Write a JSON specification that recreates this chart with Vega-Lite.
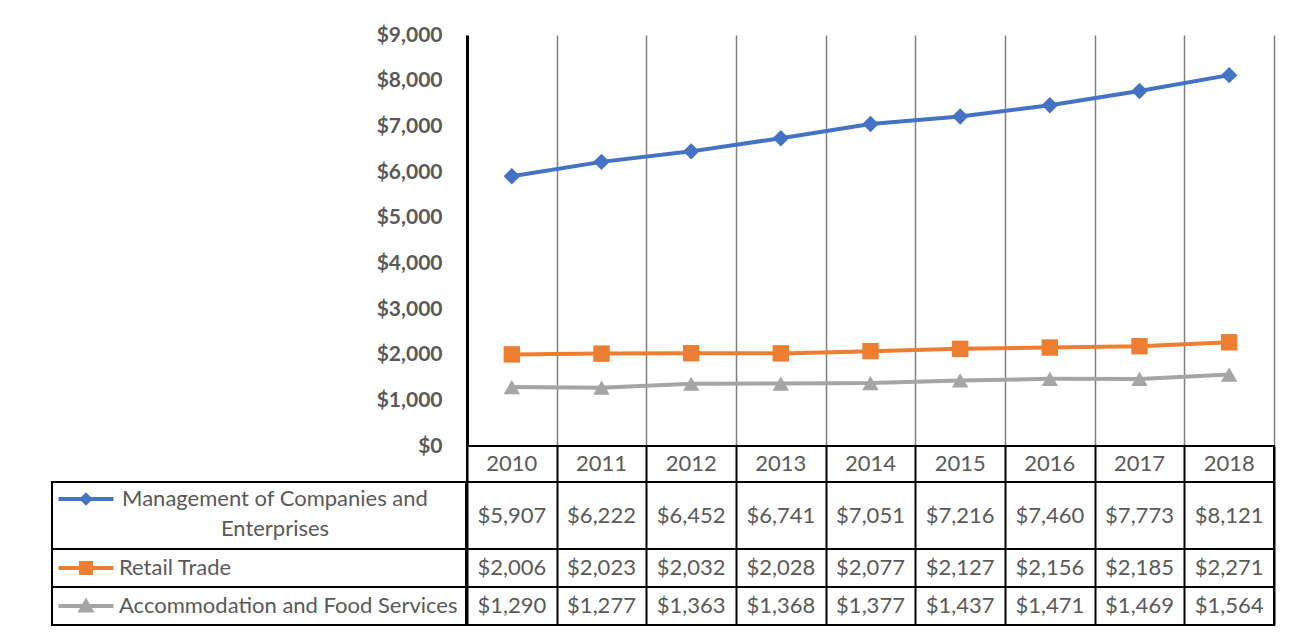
{
  "$schema": "https://vega.github.io/schema/vega-lite/v6.json",
  "padding": {"left": 51, "top": 24, "right": 10, "bottom": 0},
  "background": "#ffffff",
  "datasets": {
    "vals": [
      {"series": "Management of Companies and Enterprises", "year": "2010", "value": 5907},
      {"series": "Management of Companies and Enterprises", "year": "2011", "value": 6222},
      {"series": "Management of Companies and Enterprises", "year": "2012", "value": 6452},
      {"series": "Management of Companies and Enterprises", "year": "2013", "value": 6741},
      {"series": "Management of Companies and Enterprises", "year": "2014", "value": 7051},
      {"series": "Management of Companies and Enterprises", "year": "2015", "value": 7216},
      {"series": "Management of Companies and Enterprises", "year": "2016", "value": 7460},
      {"series": "Management of Companies and Enterprises", "year": "2017", "value": 7773},
      {"series": "Management of Companies and Enterprises", "year": "2018", "value": 8121},
      {"series": "Retail Trade", "year": "2010", "value": 2006},
      {"series": "Retail Trade", "year": "2011", "value": 2023},
      {"series": "Retail Trade", "year": "2012", "value": 2032},
      {"series": "Retail Trade", "year": "2013", "value": 2028},
      {"series": "Retail Trade", "year": "2014", "value": 2077},
      {"series": "Retail Trade", "year": "2015", "value": 2127},
      {"series": "Retail Trade", "year": "2016", "value": 2156},
      {"series": "Retail Trade", "year": "2017", "value": 2185},
      {"series": "Retail Trade", "year": "2018", "value": 2271},
      {"series": "Accommodation and Food Services", "year": "2010", "value": 1290},
      {"series": "Accommodation and Food Services", "year": "2011", "value": 1277},
      {"series": "Accommodation and Food Services", "year": "2012", "value": 1363},
      {"series": "Accommodation and Food Services", "year": "2013", "value": 1368},
      {"series": "Accommodation and Food Services", "year": "2014", "value": 1377},
      {"series": "Accommodation and Food Services", "year": "2015", "value": 1437},
      {"series": "Accommodation and Food Services", "year": "2016", "value": 1471},
      {"series": "Accommodation and Food Services", "year": "2017", "value": 1469},
      {"series": "Accommodation and Food Services", "year": "2018", "value": 1564}
    ],
    "blank": [{"k": 1}]
  },
  "hconcat": [
    {
      "vconcat": [
        {
          "width": 414, "height": 411,
          "data": {"name": "vals"},
          "view": {"stroke": null},
          "mark": {"type": "text", "text": ""},
          "encoding": {
            "y": {"field": "value", "type": "quantitative",
              "scale": {"domain": [0, 9000], "nice": false, "zero": true},
              "axis": {"orient": "right", "title": null, "values": [0, 1000, 2000, 3000, 4000, 5000, 6000, 7000, 8000, 9000], "format": "$,.0f",
                "labelFont": "Lato", "labelFontWeight": "bold", "labelFontSize": 21, "labelColor": "#595959",
                "labelAlign": "right", "labelPadding": -24, "ticks": false, "tickSize": 0, "domain": false, "grid": false}}
          }
        },
        {
          "width": 414, "height": 36,
          "data": {"name": "blank"},
          "view": {"stroke": null},
          "mark": {"type": "text", "text": ""},
          "encoding": {}
        },
        {
          "width": 414, "height": 67,
          "data": {"name": "vals"},
          "transform": [{"filter": "datum.series === 'Management of Companies and Enterprises' && datum.year === '2010'"}],
          "view": {"stroke": "#000000", "strokeWidth": 2},
          "mark": {"type": "text", "text": ""},
          "encoding": {
            "color": {"field": "series", "type": "nominal", "scale": {"range": ["#4472C4"]},
              "legend": {"title": null, "orient": "none", "legendX": 23, "legendY": 6,
                "symbolType": "M-5.5,-0.4H5.5V0.4H-5.5Z M0,-1.35L1.35,0L0,1.35L-1.35,0Z",
                "symbolSize": 100, "symbolStrokeWidth": 0,
                "labelExpr": "['Management of Companies and', 'Enterprises']", "labelAlign": "center",
                "labelFont": "Lato", "labelFontSize": 22, "labelColor": "#595959", "labelLimit": 400, "labelOffset": 178}}
          }
        },
        {
          "width": 414, "height": 38,
          "data": {"name": "vals"},
          "transform": [{"filter": "datum.series === 'Retail Trade' && datum.year === '2010'"}],
          "view": {"stroke": "#000000", "strokeWidth": 2},
          "mark": {"type": "text", "text": ""},
          "encoding": {
            "color": {"field": "series", "type": "nominal", "scale": {"range": ["#ED7D31"]},
              "legend": {"title": null, "orient": "none", "legendX": 23, "legendY": 8,
                "symbolType": "M-5.5,-0.4H5.5V0.4H-5.5Z M-1.4,-1.4H1.4V1.4H-1.4Z",
                "symbolSize": 100, "symbolStrokeWidth": 0,
                "labelFont": "Lato", "labelFontSize": 22, "labelColor": "#595959", "labelLimit": 400, "labelOffset": 22}}
          }
        },
        {
          "width": 414, "height": 38,
          "data": {"name": "vals"},
          "transform": [{"filter": "datum.series === 'Accommodation and Food Services' && datum.year === '2010'"}],
          "view": {"stroke": "#000000", "strokeWidth": 2},
          "mark": {"type": "text", "text": ""},
          "encoding": {
            "color": {"field": "series", "type": "nominal", "scale": {"range": ["#A5A5A5"]},
              "legend": {"title": null, "orient": "none", "legendX": 23, "legendY": 8,
                "symbolType": "M-5.5,-0.4H5.5V0.4H-5.5Z M0,-1.7L1.7,1.3H-1.7Z",
                "symbolSize": 100, "symbolStrokeWidth": 0,
                "labelFont": "Lato", "labelFontSize": 22, "labelColor": "#595959", "labelLimit": 400, "labelOffset": 22}}
          }
        }
      ],
      "spacing": 0, "bounds": "flush",
      "resolve": {"scale": {"color": "independent"}, "legend": {"color": "independent"}}
    },
    {
      "vconcat": [
        {
          "width": 807, "height": 411,
          "data": {"name": "vals"},
          "view": {"stroke": null},
          "encoding": {
            "x": {"field": "year", "type": "ordinal",
              "scale": {"type": "band", "paddingInner": 0, "paddingOuter": 0},
              "axis": {"title": null, "labels": false, "ticks": false, "domain": false, "grid": true, "tickBand": "extent", "gridColor": "#7f7f7f", "gridWidth": 1.5}},
            "y": {"field": "value", "type": "quantitative",
              "scale": {"domain": [0, 9000], "nice": false, "zero": true},
              "axis": {"title": null, "labels": false, "ticks": false, "tickSize": 0, "domainColor": "#000000", "domainWidth": 3, "grid": false}},
            "color": {"field": "series", "type": "nominal",
              "scale": {"domain": ["Management of Companies and Enterprises", "Retail Trade", "Accommodation and Food Services"], "range": ["#4472C4", "#ED7D31", "#A5A5A5"]},
              "legend": null}
          },
          "layer": [
            {"mark": {"type": "line", "strokeWidth": 4, "strokeCap": "round", "strokeJoin": "round"}},
            {"mark": {"type": "point", "filled": true, "opacity": 1, "size": 270},
              "encoding": {"shape": {"field": "series", "type": "nominal",
                "scale": {"domain": ["Management of Companies and Enterprises", "Retail Trade", "Accommodation and Food Services"], "range": ["diamond", "square", "triangle-up"]},
                "legend": null}}}
          ]
        },
        {
          "width": 807, "height": 36,
          "data": {"name": "vals"},
          "transform": [{"filter": "datum.series === 'Retail Trade'"}],
          "view": {"stroke": "#000000", "strokeWidth": 2},
          "mark": {"type": "text", "font": "Lato", "fontSize": 22, "color": "#595959"},
          "encoding": {
            "x": {"field": "year", "type": "ordinal",
              "scale": {"type": "band", "paddingInner": 0, "paddingOuter": 0},
              "axis": {"title": null, "labels": false, "ticks": false, "domain": false, "grid": true, "tickBand": "extent", "gridColor": "#000000", "gridWidth": 2}},
            "text": {"field": "year", "type": "nominal"}
          }
        },
        {
          "width": 807, "height": 67,
          "data": {"name": "vals"},
          "transform": [{"filter": "datum.series === 'Management of Companies and Enterprises'"}],
          "view": {"stroke": "#000000", "strokeWidth": 2},
          "mark": {"type": "text", "font": "Lato", "fontSize": 22, "color": "#595959"},
          "encoding": {
            "x": {"field": "year", "type": "ordinal",
              "scale": {"type": "band", "paddingInner": 0, "paddingOuter": 0},
              "axis": {"title": null, "labels": false, "ticks": false, "domain": false, "grid": true, "tickBand": "extent", "gridColor": "#000000", "gridWidth": 2}},
            "text": {"field": "value", "type": "quantitative", "format": "$,.0f"}
          }
        },
        {
          "width": 807, "height": 38,
          "data": {"name": "vals"},
          "transform": [{"filter": "datum.series === 'Retail Trade'"}],
          "view": {"stroke": "#000000", "strokeWidth": 2},
          "mark": {"type": "text", "font": "Lato", "fontSize": 22, "color": "#595959"},
          "encoding": {
            "x": {"field": "year", "type": "ordinal",
              "scale": {"type": "band", "paddingInner": 0, "paddingOuter": 0},
              "axis": {"title": null, "labels": false, "ticks": false, "domain": false, "grid": true, "tickBand": "extent", "gridColor": "#000000", "gridWidth": 2}},
            "text": {"field": "value", "type": "quantitative", "format": "$,.0f"}
          }
        },
        {
          "width": 807, "height": 38,
          "data": {"name": "vals"},
          "transform": [{"filter": "datum.series === 'Accommodation and Food Services'"}],
          "view": {"stroke": "#000000", "strokeWidth": 2},
          "mark": {"type": "text", "font": "Lato", "fontSize": 22, "color": "#595959"},
          "encoding": {
            "x": {"field": "year", "type": "ordinal",
              "scale": {"type": "band", "paddingInner": 0, "paddingOuter": 0},
              "axis": {"title": null, "labels": false, "ticks": false, "domain": false, "grid": true, "tickBand": "extent", "gridColor": "#000000", "gridWidth": 2}},
            "text": {"field": "value", "type": "quantitative", "format": "$,.0f"}
          }
        }
      ],
      "spacing": 0, "bounds": "flush"
    }
  ],
  "spacing": -3.5,
  "resolve": {"scale": {"color": "independent", "shape": "independent", "y": "independent"}, "legend": {"color": "independent", "shape": "independent"}},
  "config": {
    "style": {"guide-label": {"lineHeight": 30}}
  }
}
